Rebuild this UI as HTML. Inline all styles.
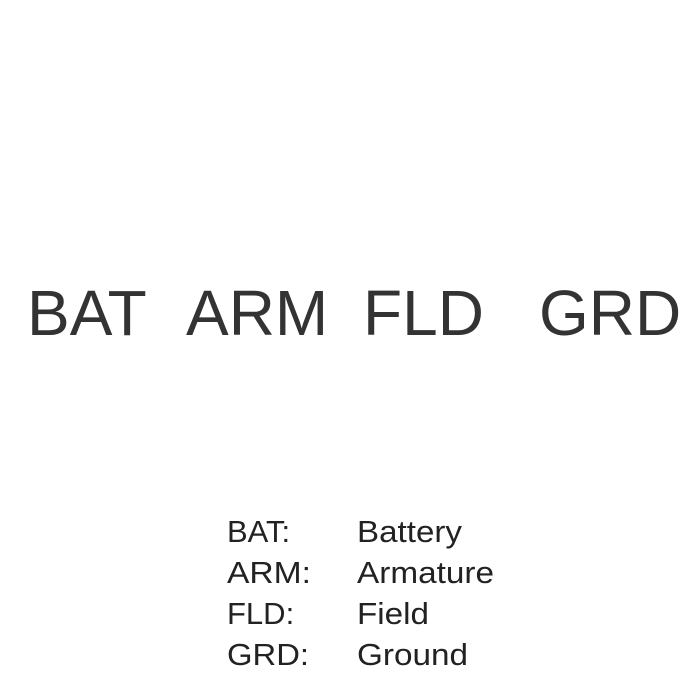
<!DOCTYPE html>
<html><head><style>
html,body{margin:0;padding:0;background:#fff;}
svg{display:block;}
text{font-family:"Liberation Sans",Arial,sans-serif;fill:#333;}
.s{fill:#222;}
</style></head><body>
<svg width="700" height="700" xmlns="http://www.w3.org/2000/svg">
<rect width="700" height="700" fill="#fff"/>
<g font-size="64">
<text x="27" y="335">BAT</text>
<text x="186" y="335">ARM</text>
<text x="363" y="335">FLD</text>
<text x="539" y="335">GRD</text>
</g>
<g font-size="31" class="s">
<text class="s" x="227" y="542">BAT:</text>
<text class="s" x="357" y="542" textLength="105" lengthAdjust="spacingAndGlyphs">Battery</text>
<text class="s" x="227" y="583" textLength="84" lengthAdjust="spacingAndGlyphs">ARM:</text>
<text class="s" x="357" y="583" textLength="137" lengthAdjust="spacingAndGlyphs">Armature</text>
<text class="s" x="227" y="624">FLD:</text>
<text class="s" x="357" y="624" textLength="72" lengthAdjust="spacingAndGlyphs">Field</text>
<text class="s" x="227" y="665" textLength="82" lengthAdjust="spacingAndGlyphs">GRD:</text>
<text class="s" x="357" y="665" textLength="111" lengthAdjust="spacingAndGlyphs">Ground</text>
</g>
</svg>
</body></html>
